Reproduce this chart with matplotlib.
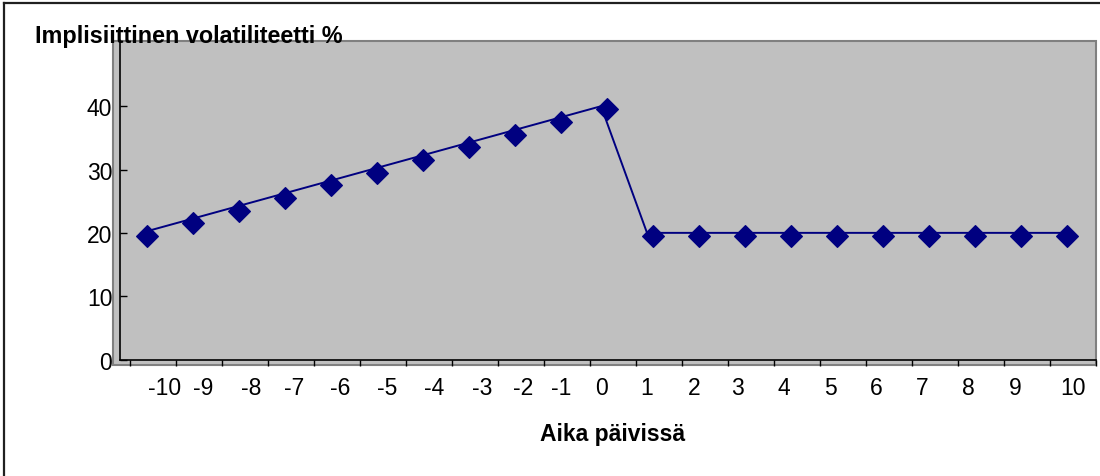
import matplotlib
matplotlib.use("Agg")
import matplotlib.pyplot as plt
from matplotlib.patches import Rectangle
from matplotlib.lines import Line2D
from matplotlib.transforms import ScaledTranslation

plt.rcParams['font.family'] = ['Liberation Sans', 'DejaVu Sans']

# ---- data ----
days = ['-10', '-9', '-8', '-7', '-6', '-5', '-4', '-3', '-2', '-1', '0',
        '1', '2', '3', '4', '5', '6', '7', '8', '9', '10']
volatility = [20, 22, 24, 26, 28, 30, 32, 34, 36, 38, 40,
              20, 20, 20, 20, 20, 20, 20, 20, 20, 20]
y_ticks = [0, 10, 20, 30, 40]
y_title = 'Implisiittinen volatiliteetti %'
x_title = 'Aika päivissä'

# ---- layout (style) ----
W, H = 1100, 477
DPI = 100
fig = plt.figure(figsize=(W / DPI, H / DPI), dpi=DPI)

def fx(px):
    return px / W

def fy(py):
    return 1 - py / H

# gray plot-area background
bg = Rectangle((fx(113), fy(366)), fx(1096) - fx(113), fy(42) - fy(366),
               transform=fig.transFigure, facecolor='#C0C0C0',
               edgecolor='#808080', linewidth=1.5, zorder=-5)
fig.patches.append(bg)

# outer chart border (left & top visible)
fig.add_artist(Line2D([fx(4), fx(4)], [fy(4), -0.05], transform=fig.transFigure,
                      color='#202020', linewidth=1.6))
fig.add_artist(Line2D([fx(4), 1.05], [fy(4), fy(4)], transform=fig.transFigure,
                      color='#202020', linewidth=1.6))

ax = fig.add_axes([fx(120), fy(360.5), fx(1096) - fx(120), fy(42) - fy(360.5)])
ax.set_facecolor('none')
ax.set_zorder(2)

x = list(range(len(days)))
ax.plot(x, volatility, color='#000080', linewidth=1.4, zorder=3)
mk_off = ax.transData + ScaledTranslation(6 / DPI, -3 / DPI, fig.dpi_scale_trans)
ax.plot(x, volatility, linestyle='none', marker='D', markersize=11.5,
        color='#000080', markeredgecolor='#000080', markeredgewidth=0.8,
        zorder=4, transform=mk_off)

ax.set_xlim(-0.457, 20.76)
ax.set_ylim(0, 50.3)

# category boundary ticks (major, no labels)
bounds = [k - 0.239 for k in range(len(days) + 1)]
ax.set_xticks(bounds)
ax.set_xticklabels([])
ax.tick_params(axis='x', which='major', direction='out', length=4.5,
               width=1, color='black')
# label positions (minor, no tick marks)
label_pos = [0.52, 1.35, 2.39, 3.33, 4.33, 5.35, 6.37, 7.41, 8.30, 9.13, 10.0,
             11.0, 12.02, 12.96, 13.98, 14.98, 15.98, 16.98, 17.98, 19.0, 20.26]
ax.set_xticks(label_pos, minor=True)
ax.set_xticklabels(days, minor=True, fontsize=16.5)
ax.tick_params(axis='x', which='minor', length=0, pad=12)

ax.set_yticks(y_ticks)
ax.set_yticklabels([str(v) for v in y_ticks], fontsize=16.5)
ax.tick_params(axis='y', direction='in', length=5, width=1, pad=5.5, color='black')

for s in ['top', 'right']:
    ax.spines[s].set_visible(False)
for s in ['left', 'bottom']:
    ax.spines[s].set_color('black')
    ax.spines[s].set_linewidth(1.2)

fig.text(fx(35), fy(37), y_title, fontsize=16.8, fontweight='bold',
         ha='left', va='center', zorder=10)
fig.text(fx(613), fy(435), x_title, fontsize=16.5, fontweight='bold',
         ha='center', va='center')

fig.savefig('out.png', dpi=DPI)
